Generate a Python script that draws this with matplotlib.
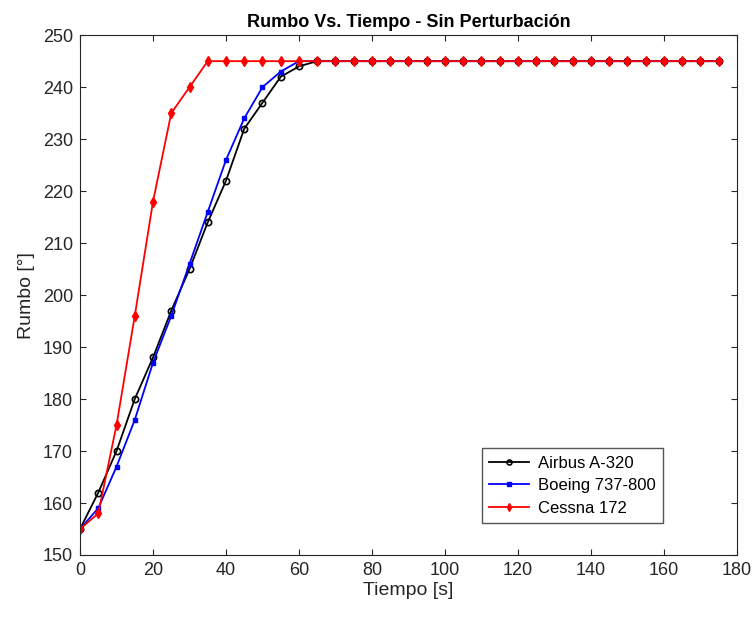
import numpy as np
import matplotlib
matplotlib.use("Agg")
import matplotlib.pyplot as plt

plt.rcParams["font.family"] = ["Liberation Sans", "DejaVu Sans"]

tiempo = list(range(0, 180, 5))

airbus = [155, 162, 170, 180, 188, 197, 205, 214, 222, 232, 237, 242, 244] + [245] * 23
boeing = [155, 159, 167, 176, 187, 196, 206, 216, 226, 234, 240, 243, 245] + [245] * 23
cessna = [155, 158, 175, 196, 218, 235, 240] + [245] * 29

fig = plt.figure(figsize=(7.55, 6.17), dpi=100)
ax = fig.add_axes([0.106, 0.1005, 0.870, 0.8425])

ax.plot(tiempo, airbus, color="black", marker="o", markersize=4.5,
        markerfacecolor="none", markeredgewidth=1.2, linewidth=1.3, label="Airbus A-320")
ax.plot(tiempo, boeing, color="blue", marker="s", markersize=3.5,
        linewidth=1.3, label="Boeing 737-800")
ax.plot(tiempo, cessna, color="red", marker="d", markersize=5,
        linewidth=1.3, label="Cessna 172")

ax.set_xlim(0, 180)
ax.set_ylim(150, 250)
ax.set_xticks(range(0, 181, 20))
ax.set_yticks(range(150, 251, 10))
ax.tick_params(direction="in", top=True, right=True, labelsize=13,
               colors="#262626", length=4, pad=5)
for s in ax.spines.values():
    s.set_color("#262626")
    s.set_linewidth(0.8)

ax.set_title("Rumbo Vs. Tiempo - Sin Perturbación", fontsize=13, fontweight="bold")
ax.set_xlabel("Tiempo [s]", fontsize=14, color="#262626", labelpad=2)
ax.set_ylabel("Rumbo [°]", fontsize=14, color="#262626", labelpad=6)

leg = ax.legend(loc="lower right", bbox_to_anchor=(0.90, 0.045), fontsize=12,
                fancybox=False, framealpha=1, edgecolor="#555555",
                handlelength=2.4, handletextpad=0.5, borderpad=0.45,
                labelspacing=0.45, markerscale=0.8)

fig.savefig("out.png", dpi=100)
